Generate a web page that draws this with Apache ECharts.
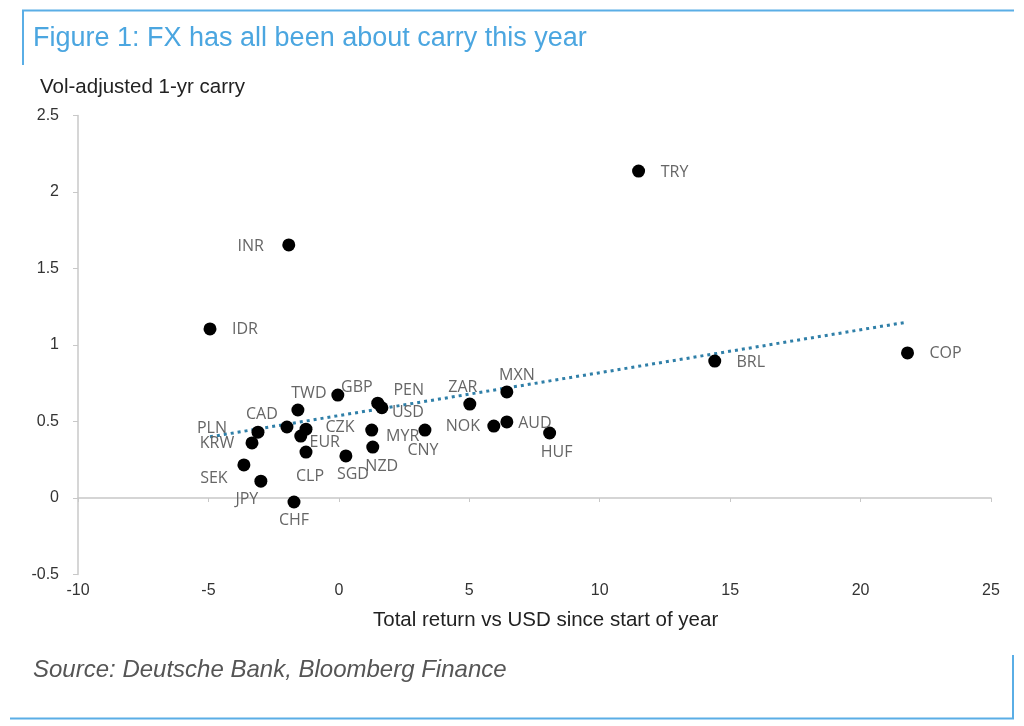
<!DOCTYPE html>
<html>
<head>
<meta charset="utf-8">
<script src="https://cdn.jsdelivr.net/npm/echarts@6/dist/echarts.min.js"></script>
<style>
html,body{margin:0;padding:0;background:#fff;}
#c{width:1024px;height:726px;}
</style>
</head>
<body>
<div id="c"></div>
<script>
const currencies = ['TRY','INR','IDR','BRL','COP','MXN','ZAR','GBP','PEN','USD','TWD','CAD','CZK','EUR','CLP','PLN','KRW','SEK','JPY','CHF','SGD','MYR','NZD','CNY','NOK','AUD','HUF'];
const totalReturn = [11.49,-1.92,-4.94,14.41,21.8,6.44,5.02,-0.04,1.49,1.65,-1.57,-1.99,-1.26,-1.46,-1.26,-3.1,-3.33,-3.64,-2.99,-1.72,0.27,1.26,1.30,3.3,5.94,6.44,8.08];
const volAdjCarry = [2.137,1.654,1.105,0.895,0.948,0.693,0.614,0.673,0.62,0.59,0.575,0.464,0.45,0.405,0.30,0.43,0.36,0.216,0.11,-0.026,0.275,0.444,0.333,0.444,0.47,0.497,0.425];
const trendX = [-4.94, 21.8];
const trendY = [0.40, 1.15];
const xTicks = [-10,-5,0,5,10,15,20,25];
const yTicks = [-0.5,0,0.5,1,1.5,2,2.5];

// label offsets (styling only) relative to point centre
const labelOffset = {
  TRY:[36,1], INR:[-38,1], IDR:[35,1], BRL:[36,1], COP:[38,0], MXN:[10,-17], ZAR:[-7,-17],
  GBP:[19,-8], PEN:[31,-13], USD:[26,5], TWD:[11,-17], CAD:[-25,-13], CZK:[34,-2], EUR:[24,6],
  CLP:[4,24], PLN:[-46,-4], KRW:[-35,1], SEK:[-30,13], JPY:[-14,18], CHF:[0,18], SGD:[7,19],
  MYR:[31,6], NZD:[9,19], CNY:[-2,20], NOK:[-31,0], AUD:[28,1], HUF:[7,19]
};

const pts = currencies.map((c,i)=>({
  name:c, value:[totalReturn[i], volAdjCarry[i]],
  label:{offset:labelOffset[c]}
}));

const chart = echarts.init(document.getElementById('c'), null, {renderer:'canvas'});
const tickFont = {color:'#333', fontSize:16, fontFamily:'"Liberation Sans Narrow", "Liberation Sans", Arial'};
chart.setOption({
  backgroundColor:'#fff',
  animation:false,
  graphic:[
    {type:'polyline', shape:{points:[[23,65],[23,10.5],[1014,10.5]]}, style:{stroke:'#5aaee6', lineWidth:2, fill:null}},
    {type:'polyline', shape:{points:[[10,718.5],[1013,718.5],[1013,655]]}, style:{stroke:'#5aaee6', lineWidth:2, fill:null}},
    {type:'text', left:33, top:25, style:{text:'Figure 1: FX has all been about carry this year', fill:'#4ba6e0', font:'27px "Liberation Sans", Arial'}},
    {type:'text', left:40, top:77, style:{text:'Vol-adjusted 1-yr carry', fill:'#222', font:'20.5px "Liberation Sans", Arial'}},
    {type:'text', left:373, top:610, style:{text:'Total return vs USD since start of year', fill:'#222', font:'20.5px "Liberation Sans", Arial'}},
    {type:'text', left:33, top:658, style:{text:'Source: Deutsche Bank, Bloomberg Finance', fill:'#555', font:'italic 24px "Liberation Sans", Arial'}}
  ],
  grid:{left:78, right:33, top:115.5, bottom:151.5, containLabel:false},
  xAxis:{
    type:'value', min:-10, max:25, interval:5,
    axisLine:{onZero:true, lineStyle:{color:'#c8c8c8', width:1.5}},
    axisTick:{show:true, inside:false, length:4, lineStyle:{color:'#c8c8c8'}},
    splitLine:{show:false},
    axisLabel:Object.assign({margin:8, formatter:v=>xTicks.includes(v)?String(v):''}, tickFont)
  },
  yAxis:{
    type:'value', min:-0.5, max:2.5, interval:0.5,
    axisLine:{show:true, onZero:false, lineStyle:{color:'#c8c8c8', width:1.5}},
    axisTick:{show:true, length:5, lineStyle:{color:'#c8c8c8'}},
    splitLine:{show:false},
    axisLabel:Object.assign({margin:19, formatter:v=>yTicks.includes(v)?String(v):''}, tickFont)
  },
  series:[
    {
      type:'line', data:trendX.map((x,i)=>[x,trendY[i]]), symbol:'none', silent:true,
      lineStyle:{color:'#2f7fa8', width:3, type:[3,4]}, z:1
    },
    {
      type:'scatter', data:pts, symbolSize:13, itemStyle:{color:'#000', opacity:1}, z:2,
      label:{show:true, position:'inside', formatter:'{b}', color:'#666', fontSize:16, fontFamily:'"Open Sans", "Noto Sans", sans-serif'}
    }
  ]
});
</script>
</body>
</html>
